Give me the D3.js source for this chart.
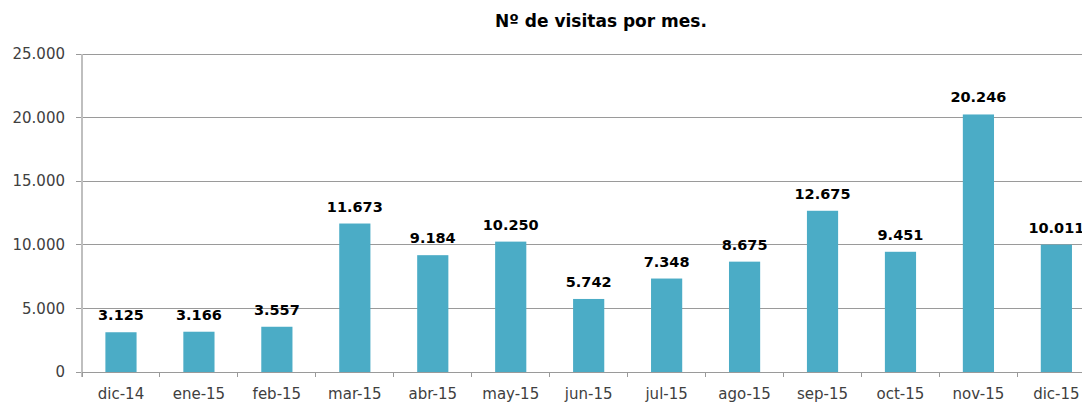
<!DOCTYPE html>
<html>
<head>
<meta charset="utf-8">
<script src="https://cdn.jsdelivr.net/npm/d3@7"></script>
<style>
  html, body { margin: 0; padding: 0; background: #fff; }
  svg { display: block; }
</style>
</head>
<body>
<svg id="chart" width="1082" height="403"></svg>
<script>
const categories = ["dic-14","ene-15","feb-15","mar-15","abr-15","may-15","jun-15","jul-15","ago-15","sep-15","oct-15","nov-15","dic-15"];
const visits = [3125, 3166, 3557, 11673, 9184, 10250, 5742, 7348, 8675, 12675, 9451, 20246, 10011];
const yTicks = [0, 5000, 10000, 15000, 20000, 25000];
const title = "Nº de visitas por mes.";

(function () {
const svg = d3.select("#chart");
const font = "'DejaVu Sans', sans-serif";
const mLeft = 82, mBottom = 372, mTop = 54;
const step = 77.95;

const x = d3.scaleBand().domain(categories).range([mLeft, mLeft + step * categories.length]).paddingInner(0.6).paddingOuter(0.3);
const y = d3.scaleLinear().domain([0, 25000]).range([mBottom, mTop]);

const fmt = v => d3.format(",")(v).replace(/,/g, ".");

// gridlines
svg.append("g").selectAll("line").data(yTicks).join("line")
  .attr("x1", 76).attr("x2", 1082)
  .attr("y1", d => y(d)).attr("y2", d => y(d))
  .attr("stroke", "#9a9a9a").attr("stroke-width", 1).attr("shape-rendering", "crispEdges");

// y tick labels
svg.append("g").selectAll("text").data(yTicks).join("text")
  .attr("x", 65).attr("y", d => y(d)).attr("dy", "0.35em")
  .attr("text-anchor", "end")
  .attr("font-family", font).attr("font-size", 15).attr("fill", "#404040")
  .text(d => fmt(d));

// bars
svg.append("g").selectAll("rect").data(visits).join("rect")
  .attr("x", (d, i) => x(categories[i]))
  .attr("width", x.bandwidth())
  .attr("y", d => y(d))
  .attr("height", d => y(0) - y(d))
  .attr("fill", "#4BACC6");

// y axis line
svg.append("line").attr("x1", mLeft).attr("x2", mLeft).attr("y1", mTop).attr("y2", mBottom + 5)
  .attr("stroke", "#bfbfbf").attr("stroke-width", 1.2).attr("shape-rendering", "crispEdges");

// x axis ticks
svg.append("g").attr("transform", `translate(0,${mBottom})`)
  .selectAll("line").data(d3.range(categories.length + 1)).join("line")
  .attr("x1", i => mLeft + step * i).attr("x2", i => mLeft + step * i)
  .attr("y1", 0).attr("y2", 5)
  .attr("stroke", "#9a9a9a").attr("shape-rendering", "crispEdges");

const xAxis = d3.axisBottom(x).tickSize(0).tickPadding(0);
svg.append("g").attr("transform", `translate(0,${mBottom})`).call(xAxis)
  .call(g => g.select(".domain").remove())
  .call(g => g.selectAll("text")
    .attr("y", 27).attr("dy", 0)
    .attr("font-family", font).attr("font-size", 15).attr("fill", "#404040"));

// value labels
svg.append("g").selectAll("text").data(visits).join("text")
  .attr("x", (d, i) => x(categories[i]) + x.bandwidth() / 2)
  .attr("y", d => y(d) - 12)
  .attr("text-anchor", "middle")
  .attr("font-family", font).attr("font-weight", "bold").attr("font-size", 14.5).attr("fill", "#000")
  .text(d => fmt(d));

// title
svg.append("text").attr("x", 601).attr("y", 27).attr("text-anchor", "middle")
  .attr("font-family", font).attr("font-weight", "bold").attr("font-size", 17).attr("fill", "#000")
  .text(title);
})();
</script>
</body>
</html>
